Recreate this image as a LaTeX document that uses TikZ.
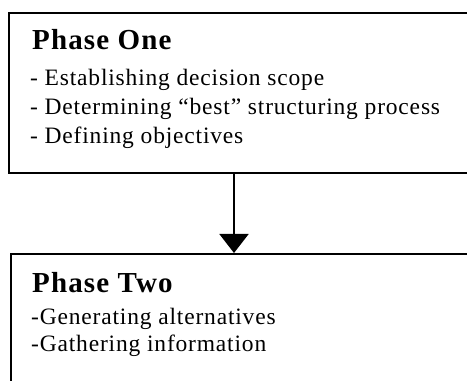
\documentclass[tikz,border=0pt]{standalone}
\usepackage{fontspec}
\setmainfont{Liberation Serif}
\usetikzlibrary{arrows.meta}
\tikzset{
  phasebox/.style={draw, line width=1.8pt, rectangle, anchor=north west, inner sep=0pt},
  headtxt/.style={anchor=base west, inner sep=0pt, font=\fontsize{29}{30}\selectfont\bfseries\addfontfeatures{LetterSpace=4}},
  itemtxt/.style={anchor=base west, inner sep=0pt, font=\fontsize{23.5}{24}\selectfont\addfontfeatures{LetterSpace=3.5}},
  flow/.style={line width=1.8pt, -{Triangle[width=29pt,length=19pt]}}
}
\begin{document}
\begin{tikzpicture}[x=1pt,y=1pt]
\useasboundingbox (0,0) rectangle (467,381);
\clip (0,0) rectangle (467,381);
\node[phasebox, minimum width=500pt, minimum height=160pt] (box1) at (8,369) {};
\node[phasebox, minimum width=500pt, minimum height=160pt] (box2) at (10,128) {};
\node[headtxt] (h1) at (32,331) {Phase One};
\node[itemtxt] (a1) at (30,295) {- Establishing decision scope};
\node[itemtxt] (a2) at (30,266) {- Determining “best” structuring process};
\node[itemtxt] (a3) at (30,237) {- Defining objectives};
\node[headtxt] (h2) at (32,88) {Phase Two};
\node[itemtxt] (b1) at (31,56) {-Generating alternatives};
\node[itemtxt] (b2) at (31,29) {-Gathering information};
\coordinate (s1) at (234,0);
\draw[flow] (box1.south -| s1) -- (box2.north -| s1);
\end{tikzpicture}
\end{document}
